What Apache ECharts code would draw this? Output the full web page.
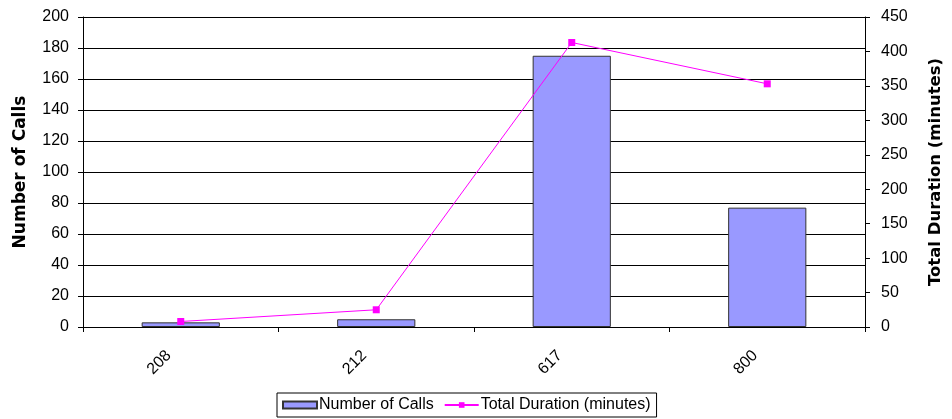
<!DOCTYPE html>
<html>
<head>
<meta charset="utf-8">
<script src="https://cdn.jsdelivr.net/npm/echarts@6/dist/echarts.min.js"></script>
<style>
  html, body { margin: 0; padding: 0; background: #fff; }
  #chart { width: 952px; height: 419px; }
</style>
</head>
<body>
<div id="chart"></div>
<script>
// Call statistics per extension
const categories = ['208', '212', '617', '800'];
const numberOfCalls = [3, 5, 175, 77];
const totalDuration = [8, 25, 413, 353];
const leftTicks = { min: 0, max: 200, interval: 20 };
const rightTicks = { min: 0, max: 450, interval: 50 };

const FONT = '"Liberation Sans", Arial, sans-serif';
const TITLE_FONT = '"DejaVu Sans", "Liberation Sans", sans-serif';
const chart = echarts.init(document.getElementById('chart'), null, { renderer: 'canvas' });

chart.setOption({
  animation: false,
  backgroundColor: '#fff',
  textStyle: { fontFamily: FONT, color: '#000' },
  grid: {
    left: 83, right: 87, top: 17, bottom: 92,
    containLabel: false,
    outerBoundsMode: 'none'
  },
  legend: {
    left: 277,
    bottom: 2,
    orient: 'horizontal',
    borderColor: '#000',
    borderWidth: 1,
    borderRadius: 0,
    padding: [4, 6, 4, 5],
    itemGap: 10,
    itemWidth: 34,
    itemHeight: 7,
    textStyle: { fontFamily: FONT, fontSize: 16, color: '#000', padding: [0, 0, 0, -3] },
    data: [
      { name: 'Number of Calls', icon: 'rect' },
      { name: 'Total Duration (minutes)' }
    ]
  },
  xAxis: {
    type: 'category',
    data: categories,
    boundaryGap: true,
    axisLine: { lineStyle: { color: '#000', width: 1 } },
    axisTick: { show: true, length: 5, lineStyle: { color: '#000' } },
    axisLabel: {
      rotate: 45, fontSize: 16, color: '#000', margin: 14,
      padding: [0, 17, 0, 0], fontFamily: FONT
    },
    splitLine: { show: false }
  },
  yAxis: [
    {
      type: 'value',
      min: leftTicks.min, max: leftTicks.max, interval: leftTicks.interval,
      name: 'Number of Calls',
      nameLocation: 'middle',
      nameGap: 54,
      nameTextStyle: { fontSize: 17, fontWeight: 'bold', color: '#000', fontFamily: TITLE_FONT },
      axisLine: { show: true, lineStyle: { color: '#000' } },
      axisTick: { show: true, length: 5, lineStyle: { color: '#000' } },
      axisLabel: { fontSize: 16, color: '#000', margin: 14, fontFamily: FONT },
      splitLine: { show: true, lineStyle: { color: '#000', width: 1 } }
    },
    {
      type: 'value',
      min: rightTicks.min, max: rightTicks.max, interval: rightTicks.interval,
      name: 'Total Duration (minutes)',
      nameLocation: 'middle',
      nameGap: 62,
      nameRotate: 90,
      nameTextStyle: { fontSize: 16.5, fontWeight: 'bold', color: '#000', fontFamily: TITLE_FONT },
      position: 'right',
      axisLine: { show: true, lineStyle: { color: '#000' } },
      axisTick: { show: true, length: 5, lineStyle: { color: '#000' } },
      axisLabel: { fontSize: 16, color: '#000', margin: 16, fontFamily: FONT },
      splitLine: { show: false }
    }
  ],
  series: [
    {
      name: 'Number of Calls',
      type: 'bar',
      yAxisIndex: 0,
      data: numberOfCalls,
      barWidth: '40%',
      itemStyle: { color: '#9999FF', borderColor: '#333333', borderWidth: 1 }
    },
    {
      name: 'Total Duration (minutes)',
      type: 'line',
      yAxisIndex: 1,
      data: totalDuration,
      symbol: 'rect',
      symbolSize: 7,
      lineStyle: { color: '#FF00FF', width: 1 },
      itemStyle: { color: '#FF00FF' }
    }
  ]
});
</script>
</body>
</html>
